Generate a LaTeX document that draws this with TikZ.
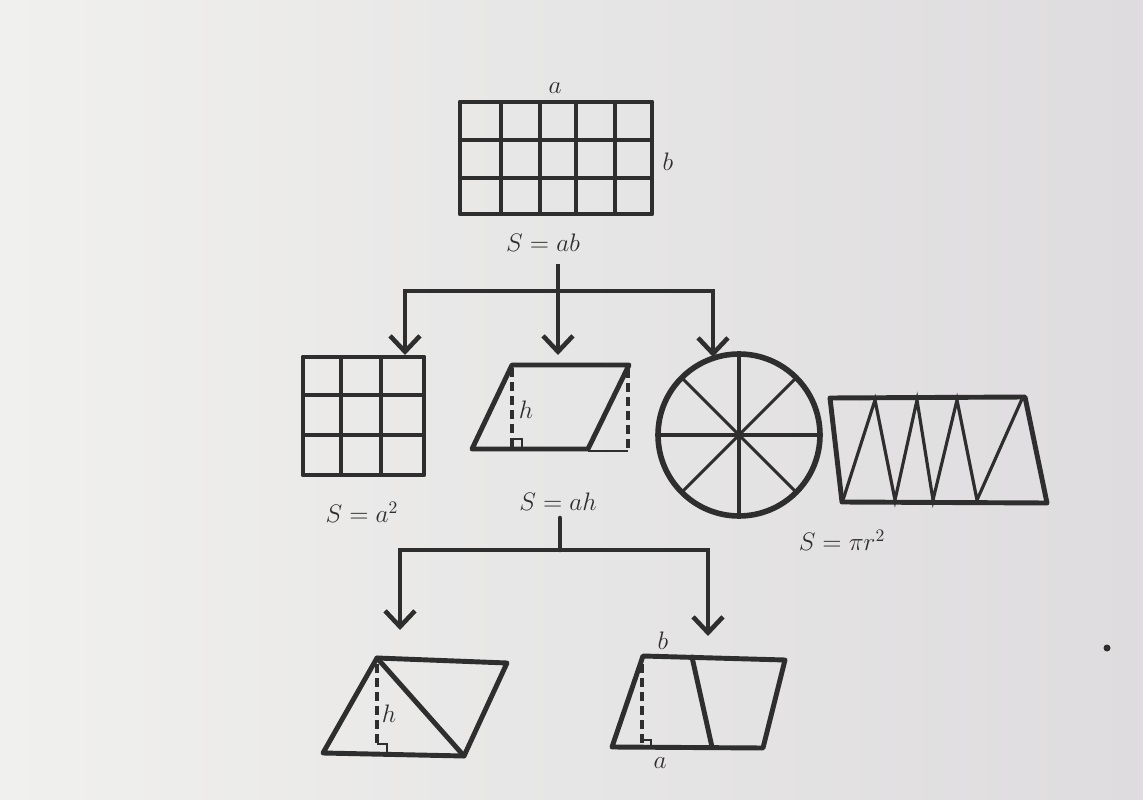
\documentclass[tikz,border=0pt]{standalone}
\usepackage{tikz}
\usetikzlibrary{arrows.meta}
\definecolor{paperLight}{RGB}{240,240,238}
\definecolor{paperDark}{RGB}{222,220,222}
\colorlet{ink}{black!82}

\begin{document}
\begin{tikzpicture}[
  x=0.02cm, y=-0.02cm,
  frame/.style={
    draw=ink,
    line width=2.8pt,
    line join=round,
    line cap=round
  },
  grid line/.style={
    draw=ink,
    line width=1.8pt
  },
  height line/.style={
    draw=ink,
    line width=2.2pt,
    dash pattern=on 5pt off 3pt
  },
  flow/.style={
    draw=ink,
    line width=2.6pt,
    line join=miter
  },
  down/.style={
    flow,
    -{Straight Barb[length=9pt,width=17pt]}
  },
  label/.style={
    text=ink,
    font=\Large
  }
]
\shade[left color=paperLight, right color=paperDark] (0,0) rectangle (1143,800);

% rectangle a x b
\draw[grid line] \foreach \x in {501,540,576,615} {(\x,102) -- (\x,214)};
\draw[grid line, line width=2.2pt] \foreach \y in {140,178} {(460,\y) -- (652,\y)};
\draw[frame] (460,102) rectangle (652,214);
\node[label] (rect a) at (555,88) {$a$};
\node[label] (rect b) at (668,162) {$b$};
\node[label] (rect area) at (543,243) {$S=ab$};

\coordinate (top stem) at (558,264);
\coordinate (top fork) at (558,291);
\coordinate (square top) at (405,355);
\coordinate (para top) at (558,355);
\coordinate (circle top) at (713,357);
\draw[down] (top stem) -- (para top);
\draw[down] (top fork) -| (square top);
\draw[down] (top fork) -| (circle top);

% square
\draw[grid line] \foreach \x in {341,381} {(\x,357) -- (\x,475)};
\draw[grid line] \foreach \y in {395,435} {(303,\y) -- (424,\y)};
\draw[frame] (303,357) rectangle (424,475);
\node[label] (square area) at (362,512) {$S=a^2$};

% parallelogram
\draw[height line] (512,368) -- (512,447);
\draw[ink, line width=1.6pt] (512,439) -| (522,449);
\draw[height line] (628,369) -- (628,451);
\draw[ink, line width=1.2pt] (588,451) -- (628,451);
\draw[frame] (512,365) -- (629,365) -- (588,449) -- (472,449) -- cycle;
\node[label] (para h) at (526,410) {$h$};
\node[label] (para area) at (558,502) {$S=ah$};

\coordinate (mid stem) at (560,518);
\coordinate (mid fork) at (560,550);
\coordinate (tri top) at (400,630);
\coordinate (trap top) at (708,636);
\draw[flow, line cap=round] (mid stem) -- (mid fork);
\draw[down] (mid fork) -| (tri top);
\draw[down] (mid fork) -| (trap top);

% circle and its strip
\coordinate (circle c) at (739,435);
\foreach \a in {0,45,90,135} {
  \draw[grid line, shift={(circle c)}] (\a:1.6cm) -- (\a+180:1.6cm);
}
\draw[ink, line width=3.2pt] (circle c) circle[radius=1.62cm];

\draw[grid line] (843,500) -- (875,400) -- (895,500) -- (917,400) -- (933,500)
  -- (957,400) -- (977,500) -- (1022,399);
\draw[frame] (830,398) -- (1025,397) -- (1047,503) -- (842,502) -- cycle;
\node[label] (circle area) at (842,540) {$S=\pi r^2$};

% triangle halves
\draw[height line] (377,664) -- (377,748);
\draw[ink, line width=1.6pt] (377,744) -| (387,753);
\draw[frame] (377,658) -- (507,663) -- (464,756) -- (323,753) -- cycle;
\draw[frame] (377,658) -- (464,756);
\node[label] (tri h) at (389,714) {$h$};

% trapezoid pair
\draw[height line] (642,664) -- (642,743);
\draw[ink, line width=1.6pt] (642,740) -| (651,747);
\draw[frame] (643,656) -- (785,660) -- (763,748) -- (612,747) -- cycle;
\draw[frame] (692,657) -- (712,747);
\node[label] (trap b) at (663,641) {$b$};
\node[label] (trap a) at (660,763) {$a$};

\fill[ink] (1107,648) circle[radius=0.07cm];
\end{tikzpicture}
\end{document}
